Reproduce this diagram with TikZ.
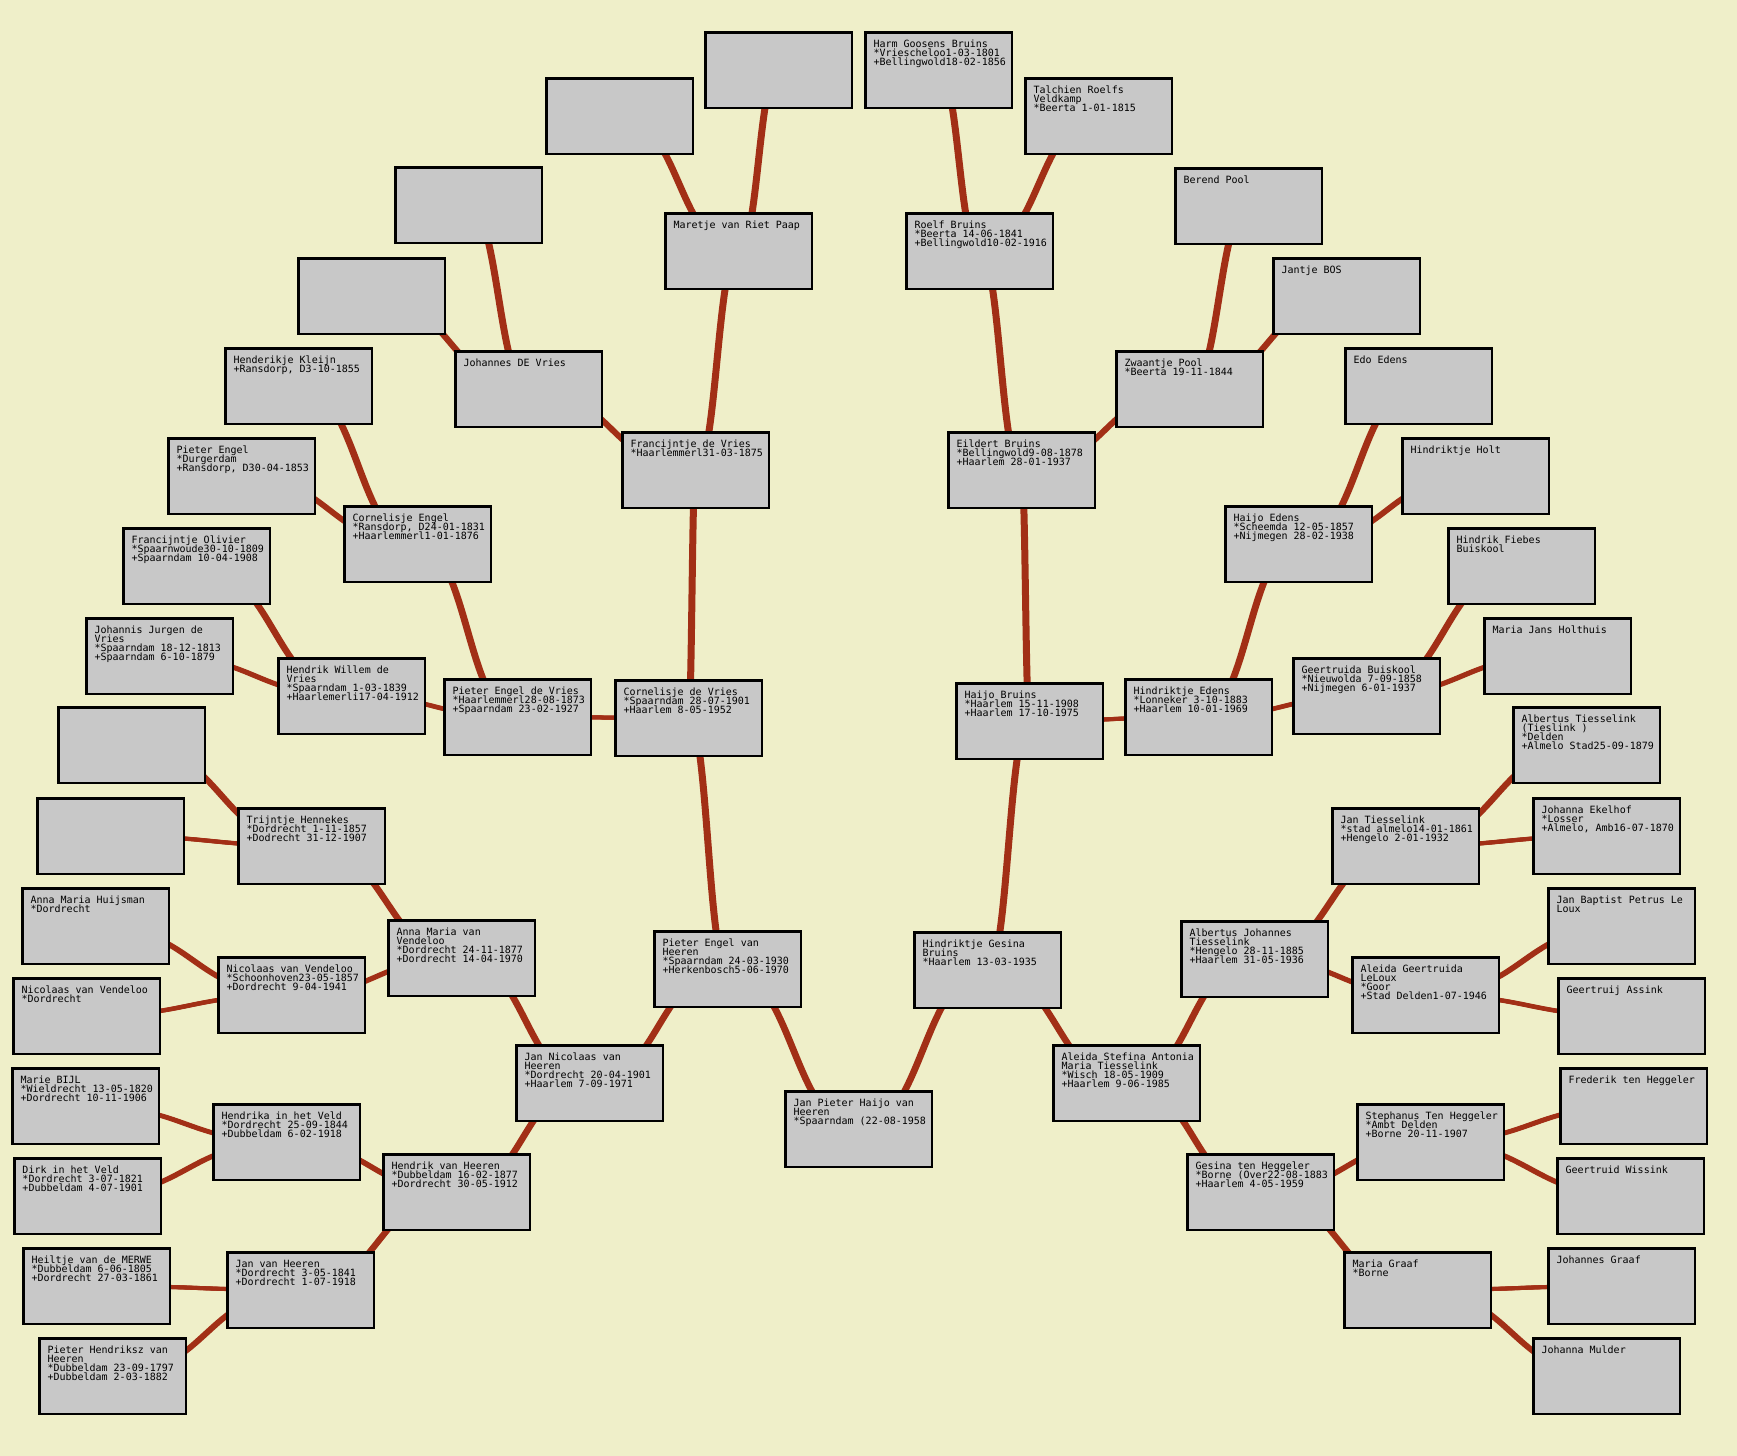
\documentclass[tikz,border=0pt]{standalone}
\usepackage{fontspec}
\newfontfamily\pmono{DejaVu Sans Mono}
\usetikzlibrary{calc}
\definecolor{bgyellow}{RGB}{239,239,201}
\definecolor{boxgray}{RGB}{200,200,200}
\definecolor{linkred}{RGB}{162,47,22}
\pgfdeclarelayer{bgl}
\pgfdeclarelayer{linkl}
\pgfsetlayers{bgl,linkl,main}
\newcommand\pinfo[1]{\parbox[c][37.75pt][t]{73.25pt}{\raggedright\leftskip=4.125pt\lineskiplimit=-\maxdimen\rule{0pt}{7.375pt}#1}}
\newcommand\nl{\\{}}
\begin{document}
\begin{tikzpicture}[x=0.5pt,y=-0.5pt,
  pbox/.style={draw=black, line width=1.25pt, fill=boxgray, anchor=north west,
    inner sep=0pt, minimum width=73.25pt, minimum height=37.75pt,
    font=\pmono\fontsize{5pt}{4.5pt}\selectfont},
  link/.style={draw=linkred, line width=2pt,
    preaction={draw=linkred, line width=2pt, transform canvas={xshift=-0.75pt}},
    postaction={draw=linkred, line width=2pt, transform canvas={xshift=0.75pt}},
    to path={let \p1=(\tikztostart), \p2=(\tikztotarget) in
      .. controls ({(\x1+\x2)/2},\y1) and ({(\x1+\x2)/2},\y2) .. (\tikztotarget)}}]
\begin{pgfonlayer}{bgl}
\fill[bgyellow] (0,0) rectangle (1737,1456);
\end{pgfonlayer}
% generation 0
\node[pbox] (root) at (784,1090) {\pinfo{Jan Pieter Haijo van\nl Heeren\nl *Spaarndam (22-08-1958}};
% generation 1
\node[pbox] (pevh) at (653,930) {\pinfo{Pieter Engel van\nl Heeren\nl *Spaarndam 24-03-1930\nl +Herkenbosch5-06-1970}};
\node[pbox] (hgb) at (913,931) {\pinfo{Hindriktje Gesina\nl Bruins\nl *Haarlem 13-03-1935}};
% generation 2
\node[pbox] (jnvh) at (515,1044) {\pinfo{Jan Nicolaas van\nl Heeren\nl *Dordrecht 20-04-1901\nl +Haarlem 7-09-1971}};
\node[pbox] (cdv) at (614,679) {\pinfo{Cornelisje de Vries\nl *Spaarndam 28-07-1901\nl +Haarlem 8-05-1952}};
\node[pbox] (hb) at (955,682) {\pinfo{Haijo Bruins\nl *Haarlem 15-11-1908\nl +Haarlem 17-10-1975}};
\node[pbox] (asamt) at (1052,1044) {\pinfo{Aleida Stefina Antonia\nl Maria Tiesselink\nl *Wisch 18-05-1909\nl +Haarlem 9-06-1985}};
% generation 3
\node[pbox] (hvh) at (382,1153) {\pinfo{Hendrik van Heeren\nl *Dubbeldam 16-02-1877\nl +Dordrecht 30-05-1912}};
\node[pbox] (amvv) at (387,919) {\pinfo{Anna Maria van\nl Vendeloo\nl *Dordrecht 24-11-1877\nl +Dordrecht 14-04-1970}};
\node[pbox] (pedv) at (443,678) {\pinfo{Pieter Engel de Vries\nl *Haarlemmerl28-08-1873\nl +Spaarndam 23-02-1927}};
\node[pbox] (fdv) at (621,431) {\pinfo{Francijntje de Vries\nl *Haarlemmerl31-03-1875}};
\node[pbox] (eb) at (947,431) {\pinfo{Eildert Bruins\nl *Bellingwold9-08-1878\nl +Haarlem 28-01-1937}};
\node[pbox] (he) at (1124,678) {\pinfo{Hindriktje Edens\nl *Lonneker 3-10-1883\nl +Haarlem 10-01-1969}};
\node[pbox] (ajt) at (1180,920) {\pinfo{Albertus Johannes\nl Tiesselink\nl *Hengelo 28-11-1885\nl +Haarlem 31-05-1936}};
\node[pbox] (gth) at (1186,1153) {\pinfo{Gesina ten Heggeler\nl *Borne (Over22-08-1883\nl +Haarlem 4-05-1959}};
% generation 4
\node[pbox] (jvh) at (226,1251) {\pinfo{Jan van Heeren\nl *Dordrecht 3-05-1841\nl +Dordrecht 1-07-1918}};
\node[pbox] (hitv) at (212,1103) {\pinfo{Hendrika in het Veld\nl *Dordrecht 25-09-1844\nl +Dubbeldam 6-02-1918}};
\node[pbox] (nvv) at (217,956) {\pinfo{Nicolaas van Vendeloo\nl *Schoonhoven23-05-1857\nl +Dordrecht 9-04-1941}};
\node[pbox] (th) at (237,807) {\pinfo{Trijntje Hennekes\nl *Dordrecht 1-11-1857\nl +Dodrecht 31-12-1907}};
\node[pbox] (hwdv) at (277,657) {\pinfo{Hendrik Willem de\nl Vries\nl *Spaarndam 1-03-1839\nl +Haarlemerli17-04-1912}};
\node[pbox] (ce) at (343,505) {\pinfo{Cornelisje Engel\nl *Ransdorp, D24-01-1831\nl +Haarlemmerl1-01-1876}};
\node[pbox] (jdv) at (454,350) {\pinfo{Johannes DE Vries}};
\node[pbox] (mvrp) at (664,212) {\pinfo{Maretje van Riet Paap}};
\node[pbox] (rb) at (905,212) {\pinfo{Roelf Bruins\nl *Beerta 14-06-1841\nl +Bellingwold10-02-1916}};
\node[pbox] (zp) at (1115,350) {\pinfo{Zwaantje Pool\nl *Beerta 19-11-1844}};
\node[pbox] (hje) at (1224,505) {\pinfo{Haijo Edens\nl *Scheemda 12-05-1857\nl +Nijmegen 28-02-1938}};
\node[pbox] (gb) at (1292,657) {\pinfo{Geertruida Buiskool\nl *Nieuwolda 7-09-1858\nl +Nijmegen 6-01-1937}};
\node[pbox] (jt) at (1331,807) {\pinfo{Jan Tiesselink\nl *stad almelo14-01-1861\nl +Hengelo 2-01-1932}};
\node[pbox] (agl) at (1351,956) {\pinfo{Aleida Geertruida\nl LeLoux\nl *Goor\nl +Stad Delden1-07-1946}};
\node[pbox] (sth) at (1356,1103) {\pinfo{Stephanus Ten Heggeler\nl *Ambt Delden\nl +Borne 20-11-1907}};
\node[pbox] (mg) at (1343,1251) {\pinfo{Maria Graaf\nl *Borne}};
% generation 5
\node[pbox] (hvdm) at (22,1247) {\pinfo{Heiltje van de MERWE\nl *Dubbeldam 6-06-1805\nl +Dordrecht 27-03-1861}};
\node[pbox] (phvh) at (38,1337) {\pinfo{Pieter Hendriksz van\nl Heeren\nl *Dubbeldam 23-09-1797\nl +Dubbeldam 2-03-1882}};
\node[pbox] (mbijl) at (11,1067) {\pinfo{Marie BIJL\nl *Wieldrecht 13-05-1820\nl +Dordrecht 10-11-1906}};
\node[pbox] (dihv) at (13,1157) {\pinfo{Dirk in het Veld\nl *Dordrecht 3-07-1821\nl +Dubbeldam 4-07-1901}};
\node[pbox] (amh) at (21,887) {\pinfo{Anna Maria Huijsman\nl *Dordrecht}};
\node[pbox] (nvvd) at (12,977) {\pinfo{Nicolaas van Vendeloo\nl *Dordrecht}};
\node[pbox] (ea) at (57,706) {\pinfo{}};
\node[pbox] (eb2) at (36,797) {\pinfo{}};
\node[pbox] (fo) at (122,527) {\pinfo{Francijntje Olivier\nl *Spaarnwoude30-10-1809\nl +Spaarndam 10-04-1908}};
\node[pbox] (jjdv) at (85,617) {\pinfo{Johannis Jurgen de\nl Vries\nl *Spaarndam 18-12-1813\nl +Spaarndam 6-10-1879}};
\node[pbox] (hk) at (224,347) {\pinfo{Henderikje Kleijn\nl +Ransdorp, D3-10-1855}};
\node[pbox] (pe) at (167,437) {\pinfo{Pieter Engel\nl *Durgerdam\nl +Ransdorp, D30-04-1853}};
\node[pbox] (ec) at (297,257) {\pinfo{}};
\node[pbox] (ed) at (394,166) {\pinfo{}};
\node[pbox] (ee) at (545,77) {\pinfo{}};
\node[pbox] (ef) at (704,31) {\pinfo{}};
\node[pbox] (hgbr) at (864,31) {\pinfo{Harm Goosens Bruins\nl *Vriescheloo1-03-1801\nl +Bellingwold18-02-1856}};
\node[pbox] (trv) at (1024,77) {\pinfo{Talchien Roelfs\nl Veldkamp\nl *Beerta 1-01-1815}};
\node[pbox] (bp) at (1174,167) {\pinfo{Berend Pool}};
\node[pbox] (jbos) at (1272,257) {\pinfo{Jantje BOS}};
\node[pbox] (edo) at (1344,347) {\pinfo{Edo Edens}};
\node[pbox] (hh) at (1401,437) {\pinfo{Hindriktje Holt}};
\node[pbox] (hfb) at (1447,527) {\pinfo{Hindrik Fiebes\nl Buiskool}};
\node[pbox] (mjh) at (1483,617) {\pinfo{Maria Jans Holthuis}};
\node[pbox] (atl) at (1512,706) {\pinfo{Albertus Tiesselink\nl (Tieslink )\nl *Delden\nl +Almelo Stad25-09-1879}};
\node[pbox] (jek) at (1532,797) {\pinfo{Johanna Ekelhof\nl *Losser\nl +Almelo, Amb16-07-1870}};
\node[pbox] (jbp) at (1547,887) {\pinfo{Jan Baptist Petrus Le\nl Loux}};
\node[pbox] (ga) at (1557,977) {\pinfo{Geertruij Assink}};
\node[pbox] (fth) at (1559,1067) {\pinfo{Frederik ten Heggeler}};
\node[pbox] (gw) at (1556,1157) {\pinfo{Geertruid Wissink}};
\node[pbox] (jg) at (1547,1247) {\pinfo{Johannes Graaf}};
\node[pbox] (jm) at (1532,1337) {\pinfo{Johanna Mulder}};
% connectors
\begin{pgfonlayer}{linkl}
\draw[link] (root.center) to (pevh.center);
\draw[link] (root.center) to (hgb.center);
\draw[link] (pevh.center) to (jnvh.center);
\draw[link] (pevh.center) to (cdv.center);
\draw[link] (hgb.center) to (hb.center);
\draw[link] (hgb.center) to (asamt.center);
\draw[link] (jnvh.center) to (hvh.center);
\draw[link] (jnvh.center) to (amvv.center);
\draw[link] (cdv.center) to (pedv.center);
\draw[link] (cdv.center) to (fdv.center);
\draw[link] (hb.center) to (eb.center);
\draw[link] (hb.center) to (he.center);
\draw[link] (asamt.center) to (ajt.center);
\draw[link] (asamt.center) to (gth.center);
\draw[link] (hvh.center) to (jvh.center);
\draw[link] (hvh.center) to (hitv.center);
\draw[link] (amvv.center) to (nvv.center);
\draw[link] (amvv.center) to (th.center);
\draw[link] (pedv.center) to (hwdv.center);
\draw[link] (pedv.center) to (ce.center);
\draw[link] (fdv.center) to (jdv.center);
\draw[link] (fdv.center) to (mvrp.center);
\draw[link] (eb.center) to (rb.center);
\draw[link] (eb.center) to (zp.center);
\draw[link] (he.center) to (hje.center);
\draw[link] (he.center) to (gb.center);
\draw[link] (ajt.center) to (jt.center);
\draw[link] (ajt.center) to (agl.center);
\draw[link] (gth.center) to (sth.center);
\draw[link] (gth.center) to (mg.center);
\draw[link] (jvh.center) to (hvdm.center);
\draw[link] (jvh.center) to (phvh.center);
\draw[link] (hitv.center) to (mbijl.center);
\draw[link] (hitv.center) to (dihv.center);
\draw[link] (nvv.center) to (amh.center);
\draw[link] (nvv.center) to (nvvd.center);
\draw[link] (th.center) to (ea.center);
\draw[link] (th.center) to (eb2.center);
\draw[link] (hwdv.center) to (fo.center);
\draw[link] (hwdv.center) to (jjdv.center);
\draw[link] (ce.center) to (hk.center);
\draw[link] (ce.center) to (pe.center);
\draw[link] (jdv.center) to (ec.center);
\draw[link] (jdv.center) to (ed.center);
\draw[link] (mvrp.center) to (ee.center);
\draw[link] (mvrp.center) to (ef.center);
\draw[link] (rb.center) to (hgbr.center);
\draw[link] (rb.center) to (trv.center);
\draw[link] (zp.center) to (bp.center);
\draw[link] (zp.center) to (jbos.center);
\draw[link] (hje.center) to (edo.center);
\draw[link] (hje.center) to (hh.center);
\draw[link] (gb.center) to (hfb.center);
\draw[link] (gb.center) to (mjh.center);
\draw[link] (jt.center) to (atl.center);
\draw[link] (jt.center) to (jek.center);
\draw[link] (agl.center) to (jbp.center);
\draw[link] (agl.center) to (ga.center);
\draw[link] (sth.center) to (fth.center);
\draw[link] (sth.center) to (gw.center);
\draw[link] (mg.center) to (jg.center);
\draw[link] (mg.center) to (jm.center);
\end{pgfonlayer}
\end{tikzpicture}
\end{document}
